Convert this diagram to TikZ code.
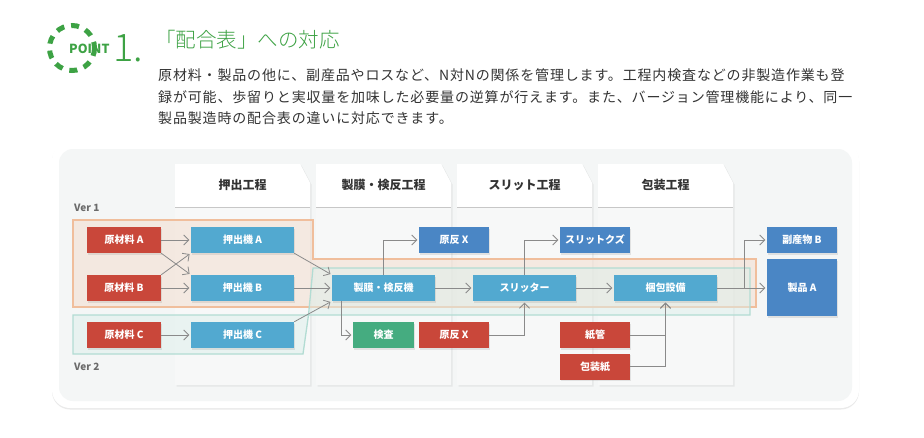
\documentclass[tikz,border=0pt]{standalone}
\usepackage{fontspec}
\setmainfont{Noto Sans CJK JP}
\setsansfont{Noto Sans CJK JP}
\newfontfamily\descfont[LetterSpace=6]{Noto Sans CJK JP}
\IfFontExistsTF{Noto Sans CJK JP Light}
  {\newfontfamily\thinfont{Noto Sans CJK JP Light}}
  {\newfontfamily\thinfont{Noto Sans CJK JP}}
\usetikzlibrary{arrows.meta,shadows,calc}

\definecolor{matred}{HTML}{C9473A}
\definecolor{machblue}{HTML}{52A9D0}
\definecolor{outblue}{HTML}{4A86C5}
\definecolor{inspgreen}{HTML}{45AC80}
\definecolor{flowgray}{HTML}{8A8A8A}
\definecolor{ptgreen}{HTML}{3DA244}
\definecolor{panelbg}{HTML}{F4F6F6}
\definecolor{colbg}{HTML}{F7F8F8}
\definecolor{veroline}{HTML}{F0BE9C}
\definecolor{verofill}{HTML}{F3E0D2}
\definecolor{vertline}{HTML}{B2DCD3}
\definecolor{vertfill}{HTML}{DDEFEB}
\definecolor{textdark}{HTML}{333333}

\tikzset{
  box/.style={minimum height=26pt, inner sep=0pt, text=white,
    font=\fontsize{10}{12}\selectfont\bfseries,
    drop shadow={shadow xshift=1pt, shadow yshift=-1.5pt, opacity=0.18}},
  matbox/.style={box, fill=matred, minimum width=70pt},
  machbox/.style={box, fill=machblue, minimum width=103pt},
  outbox/.style={box, fill=outblue, minimum width=70pt},
  inspbox/.style={box, fill=inspgreen, minimum width=61pt},
  flow/.style={->, flowgray, line width=0.8pt, shorten >=1.5pt},
  colhead/.style={font=\fontsize{12}{14}\selectfont\bfseries, text=textdark},
  verlbl/.style={anchor=west, inner sep=0pt, text=black!58,
    font=\fontsize{10}{12}\selectfont\bfseries},
  descline/.style={anchor=west, inner sep=0pt, text=textdark,
    font=\descfont\fontsize{14}{16}\selectfont}
}

\begin{document}
\begin{tikzpicture}[x=1pt, y=-1pt, >={Straight Barb[length=5pt,width=10pt]}]

  \fill[white] (0,0) rectangle (924,437);
  \useasboundingbox (0,0) rectangle (924,437);

  %%%%%%%%%%%%%%%%%%%%%%%%%%%%%%%%%%%%%%%%%%%%%%%%%
  % Heading
  \draw[ptgreen, line width=5pt, dash pattern=on 8pt off 7pt] (72,48) circle (22.5);
  \node[text=ptgreen, font=\fontsize{12.5}{14}\selectfont\bfseries, inner sep=0pt, anchor=west]
    (point) at (69,49) {POINT};
  \node[text=ptgreen, font=\thinfont\fontsize{38}{40}\selectfont, inner sep=0pt, anchor=west]
    (num) at (113,48) {1.};
  \node[text=ptgreen, font=\thinfont\fontsize{20.5}{23}\selectfont, inner sep=0pt, anchor=west]
    (title) at (155,40) {「配合表」への対応};

  \node[descline] (desc1) at (158,75)
    {原材料・製品の他に、副産品やロスなど、N対Nの関係を管理します。工程内検査などの非製造作業も登};
  \node[descline] (desc2) at (158,97)
    {録が可能、歩留りと実収量を加味した必要量の逆算が行えます。また、バージョン管理機能により、同一};
  \node[descline] (desc3) at (158,118)
    {製品製造時の配合表の違いに対応できます。};

  %%%%%%%%%%%%%%%%%%%%%%%%%%%%%%%%%%%%%%%%%%%%%%%%%
  % Panel
  \fill[white, rounded corners=18pt, drop shadow={shadow xshift=0pt, shadow yshift=-1.5pt, opacity=0.16}]
    (52,142) rectangle (859,408);
  \fill[panelbg, rounded corners=14pt] (59,149) rectangle (852,401);

  % Process columns
  \foreach \cx/\lbl [count=\i] in {175/押出工程, 316/製膜・検反工程, 457/スリット工程, 598/包装工程} {
    \fill[colbg, drop shadow={shadow xshift=1.5pt, shadow yshift=-1.5pt, opacity=0.12}]
      (\cx,164) -- (\cx+125,164) -- (\cx+135,183) -- (\cx+135,385) -- (\cx,385) -- cycle;
    \fill[white] (\cx,164) -- (\cx+125,164) -- (\cx+135,183) -- (\cx+135,207) -- (\cx,207) -- cycle;
    \draw[black!22, line width=1pt] (\cx,207) -- (\cx+135,207);
    \node[colhead] (head\i) at (\cx+67.5,185) {\lbl};
  }

  % Versions
  \filldraw[draw=veroline, fill=verofill, fill opacity=0.6, line width=1.3pt]
    (73,220) -- (313,220) -- (313,259) -- (756,259) -- (756,307) -- (73,307) -- cycle;
  \filldraw[draw=vertline, fill=vertfill, fill opacity=0.5, line width=1.3pt]
    (73,315) -- (308.5,315) -- (313,268) -- (750,268) -- (750,315) -- (308.5,315)
    -- (303,354) -- (73,354) -- cycle;
  \node[verlbl] (ver1) at (74,208) {Ver 1};
  \node[verlbl] (ver2) at (74,367) {Ver 2};

  %%%%%%%%%%%%%%%%%%%%%%%%%%%%%%%%%%%%%%%%%%%%%%%%%
  % Items
  \node[matbox, minimum width=74pt] (rawA) at (124,240) {原材料 A};
  \node[matbox, minimum width=74pt] (rawB) at (124,288) {原材料 B};
  \node[matbox, minimum width=74pt] (rawC) at (124,335) {原材料 C};
  \node[machbox] (extA) at (242.5,240) {押出機 A};
  \node[machbox] (extB) at (242.5,288) {押出機 B};
  \node[machbox] (extC) at (242.5,335) {押出機 C};
  \node[machbox] (film) at (383.5,288) {製膜・検反機};
  \node[outbox] (rollOut) at (454,240) {原反 X};
  \node[inspbox] (insp) at (383.5,335) {検査};
  \node[matbox] (rollIn) at (454,335) {原反 X};
  \node[machbox] (slit) at (524.5,288) {スリッター};
  \node[outbox] (scrap) at (595,240) {スリットクズ};
  \node[matbox] (tube) at (595,335) {紙管};
  \node[matbox] (wrap) at (595,366.5) {包装紙};
  \node[machbox] (pack) at (665.5,288) {梱包設備};
  \node[outbox] (byB) at (802,240) {副産物 B};
  \node[outbox, minimum height=57pt] (prodA) at (802,287.5) {製品 A};

  % Flows
  \draw[flow] (rawA) -- (extA);
  \draw[flow] (rawB) -- (extB);
  \draw[flow] (rawC) -- (extC);
  \draw[flow] (rawA.south east) -- (extB.north west);
  \draw[flow] (rawB.north east) -- (extA.south west);
  \draw[flow] (extA.south east) -- (film.north west);
  \draw[flow] (extB) -- (film);
  \draw[flow] (extC.north east) -- (film.south west);
  \draw[flow] (film.north) |- (rollOut);
  \draw[flow] ([xshift=10pt]film.south west) |- (insp);
  \draw[flow] (film) -- (slit);
  \draw[flow] (slit.north) |- (scrap);
  \draw[flow] (rollIn) -| (slit);
  \draw[flow] (slit) -- (pack);
  \draw[flow] (tube) -| (pack);
  \draw[flow] (wrap) -| (pack);
  \draw[flow] (pack) -- (pack -| prodA.west);
  \coordinate (split) at (744,288);
  \draw[flow] (split) |- (byB);

\end{tikzpicture}
\end{document}
